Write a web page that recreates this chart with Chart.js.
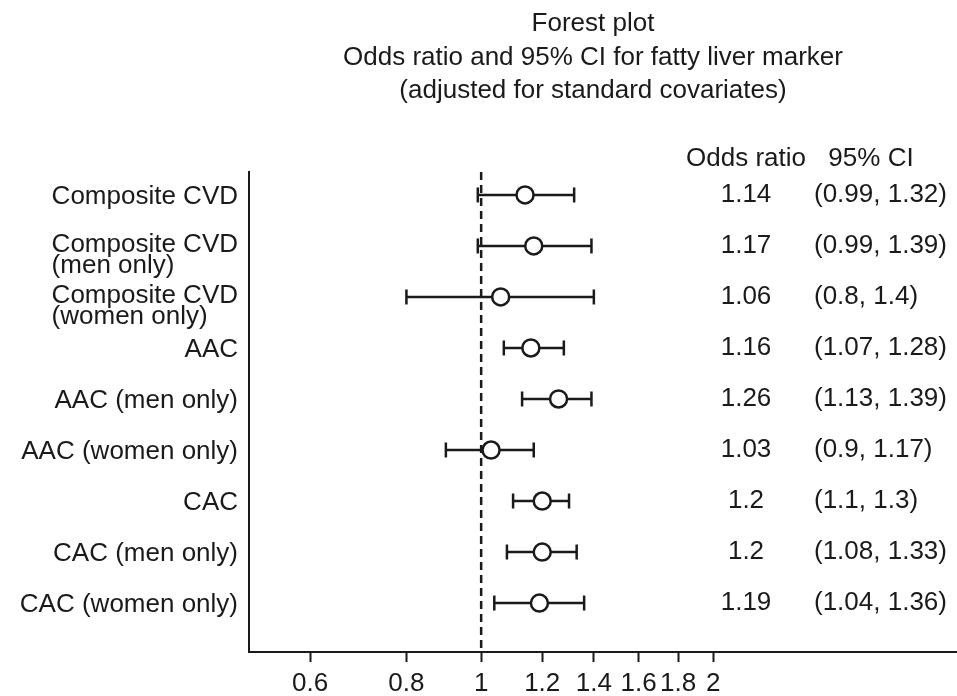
<!DOCTYPE html>
<html>
<head>
<meta charset="utf-8">
<script src="https://cdn.jsdelivr.net/npm/chart.js@4.4.0/dist/chart.umd.min.js"></script>
<style>
  html, body { margin: 0; padding: 0; background: #fff; }
  #wrap { width: 957px; height: 696px; }
</style>
</head>
<body>
<div id="wrap"><canvas id="forest" width="957" height="696"></canvas></div>
<script>
const titleLines = ['Forest plot', 'Odds ratio and 95% CI for fatty liver marker', '(adjusted for standard covariates)'];
const outcomes = [
    ['Composite CVD'],
    ['Composite CVD', '(men only)'],
    ['Composite CVD', '(women only)'],
    ['AAC'],
    ['AAC (men only)'],
    ['AAC (women only)'],
    ['CAC'],
    ['CAC (men only)'],
    ['CAC (women only)']
];
const oddsRatio = [1.14, 1.17, 1.06, 1.16, 1.26, 1.03, 1.2, 1.2, 1.19];
const ciLow = [0.99, 0.99, 0.8, 1.07, 1.13, 0.9, 1.1, 1.08, 1.04];
const ciHigh = [1.32, 1.39, 1.4, 1.28, 1.39, 1.17, 1.3, 1.33, 1.36];
const xTicks = [0.6, 0.8, 1, 1.2, 1.4, 1.6, 1.8, 2];
const columnHeads = ['Odds ratio', '95% CI'];

const ink = '#1a1a1a';
const family = '"Liberation Sans", Arial, sans-serif';
const font = '26px ' + family;
const yMin = -0.45;
const yMax = 8.96;

// text around the plot: title, row labels and the two value columns
const forestText = {
    id: 'forestText',
    afterDraw(chart) {
        const ctx = chart.ctx;
        const y = chart.scales.y;
        ctx.save();
        ctx.fillStyle = ink;
        ctx.font = font;
        ctx.textBaseline = 'alphabetic';

        ctx.textAlign = 'center';
        titleLines.forEach((line, i) => ctx.fillText(line, 593, 31 + i * 33.5));
        ctx.fillText(columnHeads[0], 746, 166);
        ctx.fillText(columnHeads[1], 871, 166);

        outcomes.forEach((lines, i) => {
            const py = y.getPixelForValue(i);
            ctx.textAlign = 'center';
            ctx.fillText(String(oddsRatio[i]), 746, py + 7);
            ctx.textAlign = 'left';
            ctx.fillText('(' + ciLow[i] + ', ' + ciHigh[i] + ')', 814, py + 7);

            const w = Math.max(...lines.map(l => ctx.measureText(l).width));
            if (lines.length === 1) {
                ctx.textAlign = 'right';
                ctx.fillText(lines[0], 238, py + 9);
            } else {
                ctx.textAlign = 'left';
                ctx.fillText(lines[0], 238 - w, py + 6);
                ctx.fillText(lines[1], 238 - w, py + 27);
            }
        });
        ctx.restore();
    }
};

const points = oddsRatio.map((v, i) => ({x: v, y: i}));
const whiskers = ciLow.flatMap((lo, i) => [{x: lo, y: i}, {x: ciHigh[i], y: i}]);

new Chart(document.getElementById('forest'), {
    type: 'scatter',
    data: {
        datasets: [
            {
                data: points,
                pointRadius: 8.5,
                pointBorderWidth: 2.5,
                pointBorderColor: ink,
                pointBackgroundColor: '#fff',
                showLine: false
            },
            {
                data: whiskers,
                showLine: true,
                borderColor: ink,
                borderWidth: 2.5,
                segment: {
                    borderColor: c => (c.p0DataIndex % 2 ? 'rgba(0,0,0,0)' : ink)
                },
                pointStyle: 'line',
                rotation: 90,
                pointRadius: 7.5,
                pointBorderWidth: 2.5,
                pointBorderColor: ink
            },
            {
                data: [{x: 1, y: yMin}, {x: 1, y: yMax}],
                showLine: true,
                borderColor: ink,
                borderWidth: 2.5,
                borderDash: [8, 5],
                pointRadius: 0
            }
        ]
    },
    options: {
        responsive: false,
        animation: false,
        layout: { autoPadding: false, padding: { top: 172, right: 0, bottom: 0, left: 0 } },
        plugins: {
            legend: { display: false },
            tooltip: { enabled: false },
            title: { display: false }
        },
        scales: {
            x: {
                type: 'logarithmic',
                min: 0.5,
                max: 4.14,
                afterBuildTicks: s => { s.ticks = xTicks.map(v => ({value: v})); },
                afterFit: s => { s.height = 44; },
                ticks: {
                    callback: v => String(v),
                    autoSkip: false,
                    maxRotation: 0,
                    color: ink,
                    font: { family: family, size: 26 },
                    padding: 6
                },
                grid: { drawOnChartArea: false, tickLength: 10, tickWidth: 2, tickColor: ink },
                border: { width: 2, color: ink }
            },
            y: {
                type: 'linear',
                reverse: true,
                min: yMin,
                max: yMax,
                afterFit: s => { s.width = 249; },
                ticks: { display: false },
                grid: { display: false },
                border: { width: 2, color: ink }
            }
        }
    },
    plugins: [forestText]
});
</script>
</body>
</html>
